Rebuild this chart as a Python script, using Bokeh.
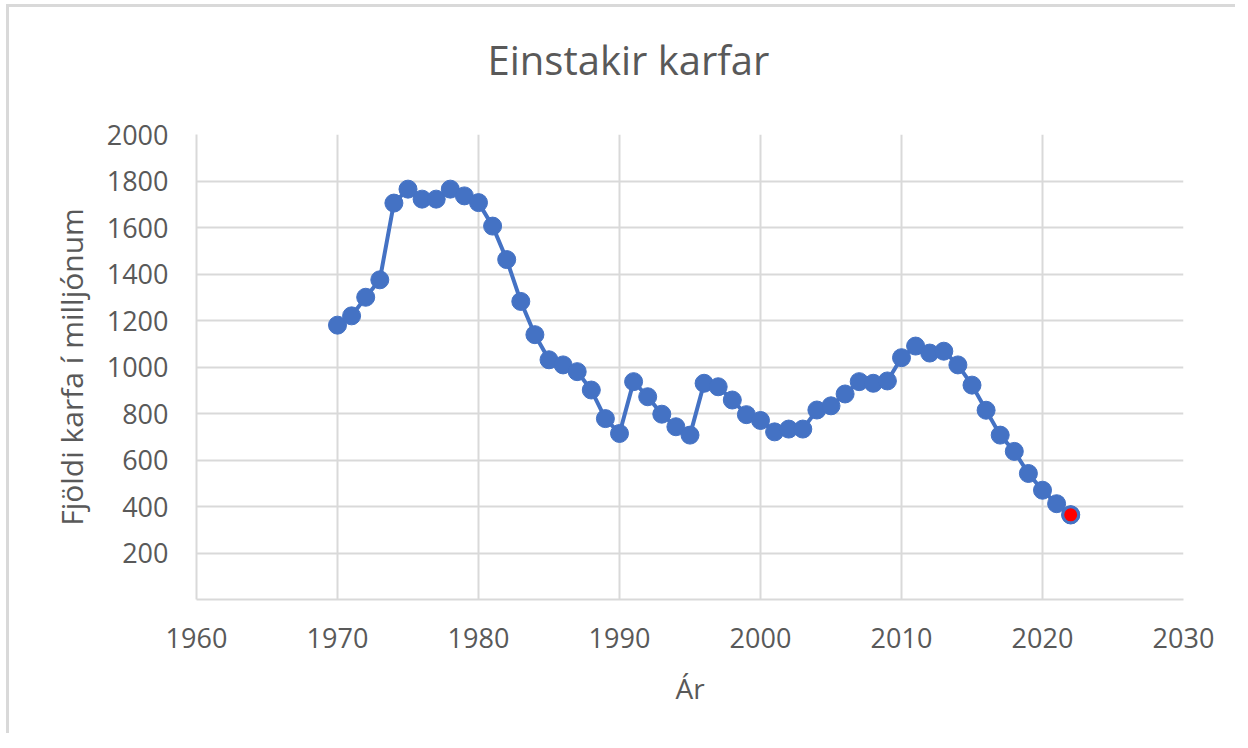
from bokeh.plotting import figure
from bokeh.models import FixedTicker, ColumnDataSource
from bokeh.embed import file_html
from bokeh.resources import INLINE

title_text = "Einstakir karfar"
x_label = "Ár"
y_label = "Fjöldi karfa í milljónum"

years = list(range(1970, 2023))
counts = [1180, 1220, 1300, 1375, 1705, 1765, 1722, 1722, 1765, 1736,
          1707, 1606, 1462, 1282, 1139, 1031, 1009, 980, 901, 778,
          714, 937, 872, 797, 743, 707, 930, 915, 858, 795,
          770, 721, 733, 733, 815, 833, 884, 937, 930, 940,
          1040, 1090, 1060, 1068, 1009, 922, 814, 707, 637, 542,
          470, 412, 364]

x_ticks = [1960, 1970, 1980, 1990, 2000, 2010, 2020, 2030]
y_ticks = [200, 400, 600, 800, 1000, 1200, 1400, 1600, 1800, 2000]

BLUE = "#4472C4"
GRID = "#D9D9D9"
TXT = "#595959"
FONT = "Open Sans"

p = figure(width=1229, height=729, output_backend="svg", toolbar_location=None,
           x_range=(1960, 2030), y_range=(0, 2000),
           min_border_left=187, min_border_right=55,
           min_border_top=127, min_border_bottom=137)
p.styles = {"border-top": "3px solid #D9D9D9", "border-left": "3px solid #D9D9D9",
            "margin-left": "6px", "margin-top": "4px"}
p.outline_line_color = None
p.background_fill_color = "white"
p.border_fill_color = "white"

p.title.text = title_text + "\n"
p.title.align = "left"
p.title.text_font = FONT
p.title.text_font_style = "normal"
p.title.text_font_size = "40px"
p.title.text_line_height = 0.77
p.title.text_color = TXT
p.title.offset = 291
p.title.standoff = 10

for ax in (p.xaxis[0], p.yaxis[0]):
    ax.major_tick_line_color = None
    ax.minor_tick_line_color = None
    ax.major_label_text_font = FONT
    ax.major_label_text_font_size = "27px"
    ax.major_label_text_color = TXT
    ax.axis_label_text_font = FONT
    ax.axis_label_text_font_style = "normal"
    ax.axis_label_text_color = TXT
    ax.axis_line_color = GRID
    ax.axis_line_width = 2

p.xaxis.axis_label_text_font_size = "28px"
p.yaxis.axis_label_text_font_size = "30px"
p.xaxis.ticker = FixedTicker(ticks=x_ticks)
p.yaxis.ticker = FixedTicker(ticks=y_ticks)
p.xaxis.axis_label = x_label
p.yaxis.axis_label = y_label
p.xaxis.major_label_standoff = 22
p.yaxis.major_label_standoff = 22
p.xaxis.axis_label_standoff = 18
p.yaxis.axis_label_standoff = 12

p.xgrid.ticker = FixedTicker(ticks=x_ticks)
p.ygrid.ticker = FixedTicker(ticks=y_ticks)
p.grid.grid_line_color = GRID
p.grid.grid_line_width = 2

src = ColumnDataSource(dict(x=years, y=counts))
p.line("x", "y", source=src, line_color=BLUE, line_width=4)
p.scatter("x", "y", source=src, size=18, fill_color=BLUE, line_color=BLUE)
p.scatter([years[-1]], [counts[-1]], size=16, fill_color="#FF0000", line_color=BLUE, line_width=3)

open("out.html", "w").write(file_html(p, INLINE))
